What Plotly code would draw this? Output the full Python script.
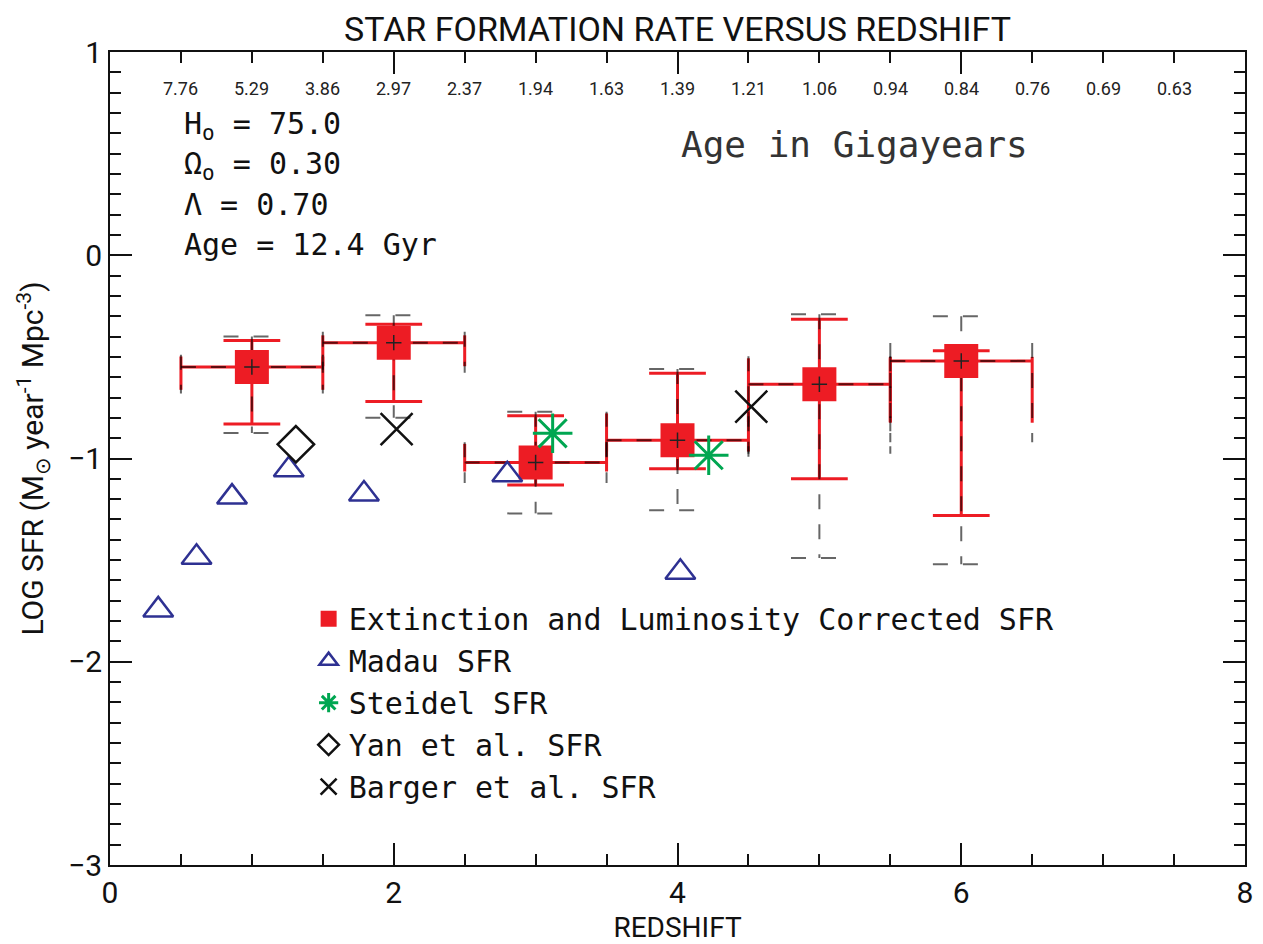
import plotly.graph_objects as go

# extinction and luminosity corrected SFR (red squares)
z = [1, 2, 3, 4, 5, 6]
z_err = [0.5, 0.5, 0.5, 0.5, 0.5, 0.5]
log_sfr = [-0.55, -0.43, -1.02, -0.91, -0.635, -0.52]
# red (solid) error bars
err_plus = [0.13, 0.09, 0.23, 0.33, 0.32, 0.05]
err_minus = [0.28, 0.29, 0.11, 0.14, 0.465, 0.76]
# dashed error bars
err2_plus = [0.15, 0.135, 0.25, 0.35, 0.345, 0.22]
err2_minus = [0.325, 0.37, 0.25, 0.345, 0.855, 1.0]

madau_z = [0.34, 0.61, 0.86, 1.26, 1.79, 2.80, 4.02]
madau_sfr = [-1.745, -1.486, -1.19, -1.055, -1.175, -1.08, -1.56]

steidel_z = [3.12, 4.22]
steidel_sfr = [-0.876, -0.984]

yan_z = [1.31]
yan_sfr = [-0.93]

barger_z = [2.02, 4.52]
barger_sfr = [-0.855, -0.745]

# age in Gyr along the top
age_z = [0.5, 1.0, 1.5, 2.0, 2.5, 3.0, 3.5, 4.0, 4.5, 5.0, 5.5, 6.0, 6.5, 7.0, 7.5]
age_labels = ["7.76", "5.29", "3.86", "2.97", "2.37", "1.94", "1.63", "1.39",
              "1.21", "1.06", "0.94", "0.84", "0.76", "0.69", "0.63"]

params = ["H<sub>o</sub> = 75.0", "Ω<sub>o</sub> = 0.30", "Λ = 0.70", "Age = 12.4 Gyr"]

RED = "#ed1c24"
NAVY = "#2e3192"
GREEN = "#00a651"
INK = "#111"
CAP = 0.4  # cap size as fraction of the error
AXFONT = "Roboto"
TXTFONT = "DejaVu Sans Mono"


def error_segments(xs, xe, ys, ep, em):
    px, py = [], []
    for x, dx, y, up, dn in zip(xs, xe, ys, ep, em):
        segs = [
            ((x - dx, y), (x + dx, y)),
            ((x - dx, y + CAP * up), (x - dx, y - CAP * dn)),
            ((x + dx, y + CAP * up), (x + dx, y - CAP * dn)),
            ((x, y + up), (x, y - dn)),
            ((x - CAP * dx, y + up), (x + CAP * dx, y + up)),
            ((x - CAP * dx, y - dn), (x + CAP * dx, y - dn)),
        ]
        for (a, b) in segs:
            px += [a[0], b[0], None]
            py += [a[1], b[1], None]
    return px, py


fig = go.Figure()

rx, ry = error_segments(z, z_err, log_sfr, err_plus, err_minus)
fig.add_trace(go.Scatter(x=rx, y=ry, mode="lines", line=dict(color=RED, width=3),
                         showlegend=False, hoverinfo="skip"))
dx_, dy_ = error_segments(z, z_err, log_sfr, err2_plus, err2_minus)
fig.add_trace(go.Scatter(x=dx_, y=dy_, mode="lines",
                         line=dict(color="rgba(0,0,0,0.6)", width=2, dash="15px,15px"),
                         showlegend=False, hoverinfo="skip"))

fig.add_trace(go.Scatter(x=z, y=log_sfr, mode="markers",
                         name="Extinction and Luminosity Corrected SFR",
                         marker=dict(symbol="square", size=34, color=RED, line=dict(width=0))))
fig.add_trace(go.Scatter(x=z, y=log_sfr, mode="markers", showlegend=False,
                         marker=dict(symbol="cross-thin", size=11,
                                     line=dict(color="#222", width=1.5))))
fig.add_trace(go.Scatter(x=madau_z, y=madau_sfr, mode="markers", name="Madau SFR",
                         marker=dict(symbol="triangle-up-open", size=26, color=NAVY,
                                     line=dict(color=NAVY, width=2.5))))
fig.add_trace(go.Scatter(x=steidel_z, y=steidel_sfr, mode="markers", name="Steidel SFR",
                         marker=dict(symbol="asterisk-open", size=33, color=GREEN,
                                     line=dict(color=GREEN, width=3))))
fig.add_trace(go.Scatter(x=yan_z, y=yan_sfr, mode="markers", name="Yan et al. SFR",
                         marker=dict(symbol="diamond-open", size=28, color=INK,
                                     line=dict(color=INK, width=2.5))))
fig.add_trace(go.Scatter(x=barger_z, y=barger_sfr, mode="markers", name="Barger et al. SFR",
                         marker=dict(symbol="x-thin-open", size=32, color=INK,
                                     line=dict(color=INK, width=2.5))))

for x, lab in zip(age_z, age_labels):
    fig.add_annotation(x=x, y=0.9557, xref="x", yref="paper", text=lab, showarrow=False,
                       yanchor="middle",
                       font=dict(family=AXFONT, size=18, color="#222"))

for i, t in enumerate(params):
    fig.add_annotation(x=0.063, y=0.910 - i * 0.049, xref="paper", yref="paper",
                       text=t, showarrow=False, xanchor="left", yanchor="middle",
                       font=dict(family=TXTFONT, size=30, color=INK))

fig.add_annotation(x=0.656, y=0.886, xref="paper", yref="paper", text="Age in Gigayears",
                   showarrow=False, yanchor="middle",
                   font=dict(family=TXTFONT, size=36, color="#333"))

axis_common = dict(showline=True, linecolor=INK, linewidth=2, mirror="allticks",
                   ticks="inside", ticklen=22, tickwidth=1.5, tickcolor=INK,
                   showgrid=False, zeroline=False, automargin=False,
                   tickfont=dict(family=AXFONT, size=30, color=INK))

fig.update_layout(
    width=1255, height=936,
    plot_bgcolor="white", paper_bgcolor="white",
    margin=dict(l=102, r=18, t=44, b=79),
    title=dict(text="STAR FORMATION RATE VERSUS REDSHIFT", x=0.5, xref="paper",
               xanchor="center", y=0.977, yanchor="middle",
               font=dict(family=AXFONT, size=34, color=INK)),
    xaxis=dict(range=[0, 8], dtick=2, tick0=0,
               minor=dict(dtick=0.5, ticklen=11, tickcolor=INK, ticks="inside"),
               title=dict(text="REDSHIFT",
                          font=dict(family=AXFONT, size=28, color=INK)),
               **axis_common),
    yaxis=dict(range=[-3, 1], dtick=1, tick0=0,
               minor=dict(dtick=0.1, ticklen=11, tickcolor=INK, ticks="inside"),
               title=dict(text="LOG SFR (M<sub>⊙</sub> year<sup>-1</sup> Mpc<sup>-3</sup>)",
                          font=dict(family=AXFONT, size=30, color=INK)),
               **axis_common),
    legend=dict(x=0.175, y=0.335, xanchor="left", yanchor="top", bgcolor="rgba(0,0,0,0)",
                font=dict(family=TXTFONT, size=30, color=INK), tracegroupgap=0),
    showlegend=True,
)

fig.write_html("out.html")
